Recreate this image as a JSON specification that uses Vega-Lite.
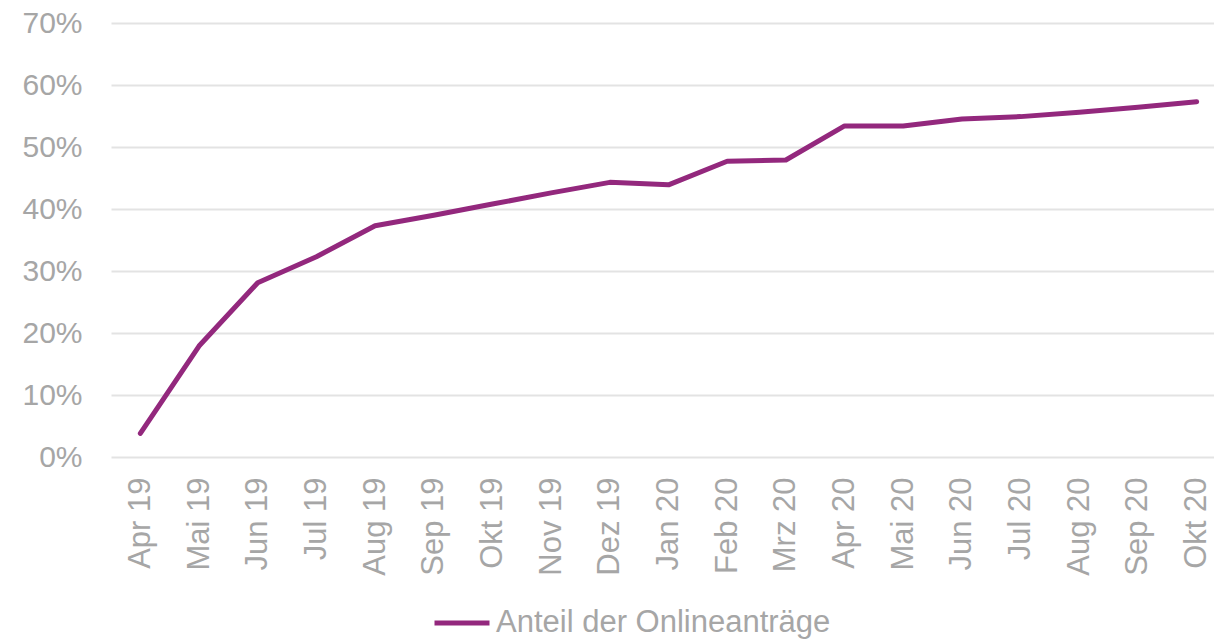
{
  "$schema": "https://vega.github.io/schema/vega-lite/v6.json",
  "width": 1103,
  "height": 434,
  "autosize": {"type": "none"},
  "padding": {"left": 111, "top": 23, "right": 0, "bottom": 182},
  "background": "white",
  "config": {
    "view": {"stroke": null},
    "font": "Liberation Sans"
  },
  "data": {
    "values": [
      {"monat": "Apr 19", "anteil": 0.038, "serie": "Anteil der Onlineanträge"},
      {"monat": "Mai 19", "anteil": 0.179, "serie": "Anteil der Onlineanträge"},
      {"monat": "Jun 19", "anteil": 0.281, "serie": "Anteil der Onlineanträge"},
      {"monat": "Jul 19", "anteil": 0.323, "serie": "Anteil der Onlineanträge"},
      {"monat": "Aug 19", "anteil": 0.373, "serie": "Anteil der Onlineanträge"},
      {"monat": "Sep 19", "anteil": 0.390, "serie": "Anteil der Onlineanträge"},
      {"monat": "Okt 19", "anteil": 0.408, "serie": "Anteil der Onlineanträge"},
      {"monat": "Nov 19", "anteil": 0.426, "serie": "Anteil der Onlineanträge"},
      {"monat": "Dez 19", "anteil": 0.443, "serie": "Anteil der Onlineanträge"},
      {"monat": "Jan 20", "anteil": 0.439, "serie": "Anteil der Onlineanträge"},
      {"monat": "Feb 20", "anteil": 0.477, "serie": "Anteil der Onlineanträge"},
      {"monat": "Mrz 20", "anteil": 0.479, "serie": "Anteil der Onlineanträge"},
      {"monat": "Apr 20", "anteil": 0.534, "serie": "Anteil der Onlineanträge"},
      {"monat": "Mai 20", "anteil": 0.534, "serie": "Anteil der Onlineanträge"},
      {"monat": "Jun 20", "anteil": 0.545, "serie": "Anteil der Onlineanträge"},
      {"monat": "Jul 20", "anteil": 0.549, "serie": "Anteil der Onlineanträge"},
      {"monat": "Aug 20", "anteil": 0.556, "serie": "Anteil der Onlineanträge"},
      {"monat": "Sep 20", "anteil": 0.564, "serie": "Anteil der Onlineanträge"},
      {"monat": "Okt 20", "anteil": 0.573, "serie": "Anteil der Onlineanträge"}
    ]
  },
  "mark": {"type": "line", "strokeWidth": 5, "strokeCap": "round", "strokeJoin": "round"},
  "encoding": {
    "x": {
      "field": "monat",
      "type": "ordinal",
      "sort": null,
      "scale": {"type": "point", "padding": 0.5, "range": [0, 1115]},
      "axis": {
        "title": null,
        "domain": false,
        "ticks": false,
        "grid": false,
        "labelAngle": -90,
        "labelAlign": "right",
        "labelBaseline": "middle",
        "labelPadding": 20,
        "labelFontSize": 31,
        "labelColor": "#a6a6a6",
        "labelFont": "Liberation Sans"
      }
    },
    "y": {
      "field": "anteil",
      "type": "quantitative",
      "scale": {"domain": [0, 0.7], "nice": false},
      "axis": {
        "title": null,
        "format": ".0%",
        "values": [0, 0.1, 0.2, 0.3, 0.4, 0.5, 0.6, 0.7],
        "domain": false,
        "ticks": false,
        "grid": true,
        "gridColor": "#e3e3e3",
        "gridWidth": 2,
        "labelPadding": 29,
        "labelFontSize": 30,
        "labelColor": "#a6a6a6",
        "labelFont": "Liberation Sans"
      }
    },
    "color": {
      "field": "serie",
      "type": "nominal",
      "scale": {"range": ["#93287d"]},
      "legend": {
        "title": null,
        "orient": "none",
        "legendX": 321,
        "legendY": 570,
        "symbolType": "stroke",
        "symbolSize": 3025,
        "symbolStrokeWidth": 5,
        "labelFontSize": 31,
        "labelColor": "#a6a6a6",
        "labelFont": "Liberation Sans",
        "labelOffset": 4,
        "labelLimit": 600
      }
    }
  }
}
